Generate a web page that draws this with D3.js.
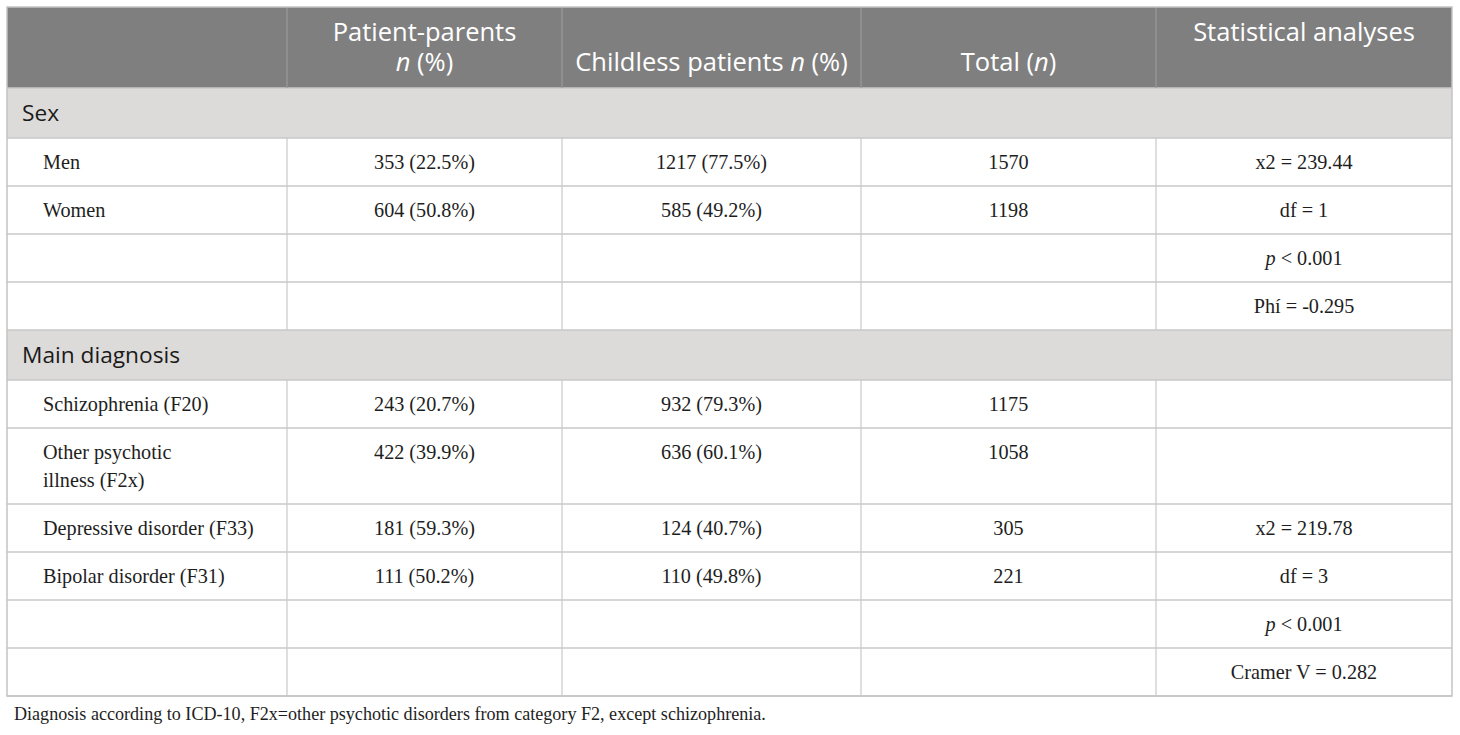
<!DOCTYPE html>
<html>
<head>
<meta charset="utf-8">
<script src="https://cdnjs.cloudflare.com/ajax/libs/d3/7.8.5/d3.min.js"></script>
<style>
  html, body { margin: 0; padding: 0; background: #fff; }
  svg { display: block; }
</style>
</head>
<body>
<div id="chart"></div>
<script>
// header cells: each line is a list of [text, italic]
const headers = [
  [],
  [[["Patient-parents", false]], [["n", true], [" (%)", false]]],
  [null, [["Childless patients ", false], ["n", true], [" (%)", false]]],
  [null, [["Total (", false], ["n", true], [")", false]]],
  [[["Statistical analyses", false]]]
];

const sexLabels = ["Men", "Women", "", ""];
const sexParents = ["353 (22.5%)", "604 (50.8%)", "", ""];
const sexChildless = ["1217 (77.5%)", "585 (49.2%)", "", ""];
const sexTotal = ["1570", "1198", "", ""];
const sexStats = ["x2 = 239.44", "df = 1", "p < 0.001", "Phí = -0.295"];

const diagLabels = ["Schizophrenia (F20)", "Other psychotic|illness (F2x)", "Depressive disorder (F33)", "Bipolar disorder (F31)", "", ""];
const diagParents = ["243 (20.7%)", "422 (39.9%)", "181 (59.3%)", "111 (50.2%)", "", ""];
const diagChildless = ["932 (79.3%)", "636 (60.1%)", "124 (40.7%)", "110 (49.8%)", "", ""];
const diagTotal = ["1175", "1058", "305", "221", "", ""];
const diagStats = ["", "", "x2 = 219.78", "df = 3", "p < 0.001", "Cramer V = 0.282"];

const groups = ["Sex", "Main diagnosis"];
const footnote = "Diagnosis according to ICD-10, F2x=other psychotic disorders from category F2, except schizophrenia.";

// layout
const W = 1460, H = 735;
const colEdges = [7, 287, 562, 861, 1156, 1452];
const tableTop = 7, headH = 81, groupH = 50, rowH = 48, lineH = 28;
const sans = "'Open Sans', 'Noto Sans', sans-serif";
const serif = "'Liberation Serif', 'DejaVu Serif', serif";

const svg = d3.select("#chart").append("svg").attr("width", W).attr("height", H);

// build row list
const rows = [];
const blocks = [
  [groups[0], sexLabels, sexParents, sexChildless, sexTotal, sexStats],
  [groups[1], diagLabels, diagParents, diagChildless, diagTotal, diagStats]
];
let y = tableTop + headH;
blocks.forEach(([g, labels, par, chl, tot, st]) => {
  rows.push({ type: "group", label: g, y, h: groupH });
  y += groupH;
  labels.forEach((l, i) => {
    const lines = l.split("|");
    const h = rowH + (lines.length - 1) * lineH;
    rows.push({ type: "data", cells: [lines, [par[i]], [chl[i]], [tot[i]], [st[i]]], y, h });
    y += h;
  });
});
const bottom = y;

const x = d3.scaleOrdinal().domain(d3.range(colEdges.length)).range(colEdges);
const xc = i => (x(i) + x(i + 1)) / 2;

// header background
svg.append("rect").attr("x", x(0)).attr("y", tableTop)
  .attr("width", x(5) - x(0)).attr("height", headH).attr("fill", "#7f7f7f");

// group row backgrounds
svg.selectAll("rect.grp").data(rows.filter(r => r.type === "group")).join("rect")
  .attr("class", "grp").attr("x", x(0)).attr("y", d => d.y)
  .attr("width", x(5) - x(0)).attr("height", d => d.h).attr("fill", "#dddbd9");

// horizontal lines
const hLines = [tableTop + headH].concat(rows.map(r => r.y + r.h));
svg.selectAll("line.h").data(hLines).join("line")
  .attr("x1", x(0)).attr("x2", x(5)).attr("y1", d => d).attr("y2", d => d)
  .attr("stroke", "#c9c9c9").attr("stroke-width", 1.5);

// vertical lines in header
svg.selectAll("line.vh").data(d3.range(1, 5)).join("line")
  .attr("x1", d => x(d)).attr("x2", d => x(d))
  .attr("y1", tableTop).attr("y2", tableTop + headH)
  .attr("stroke", "#9a9a9a").attr("stroke-width", 1.2);

// vertical lines in data rows
const dataRows = rows.filter(r => r.type === "data");
dataRows.forEach(r => {
  svg.append("g").selectAll("line").data(d3.range(1, 5)).join("line")
    .attr("x1", d => x(d)).attr("x2", d => x(d))
    .attr("y1", r.y).attr("y2", r.y + r.h)
    .attr("stroke", "#c9c9c9").attr("stroke-width", 1.2);
});

// outer border
svg.append("rect").attr("x", x(0)).attr("y", tableTop)
  .attr("width", x(5) - x(0)).attr("height", bottom - tableTop)
  .attr("fill", "none").attr("stroke", "#c4c4c4").attr("stroke-width", 1.5);

// header text: one text element per cell, one tspan row per line
const hLineY = [41, 71];
headers.forEach((lines, ci) => {
  if (!lines.length) return;
  const t = svg.append("text").attr("text-anchor", "middle").attr("fill", "#fff")
    .style("font-family", sans).style("font-size", "25.5px");
  lines.forEach((segs, li) => {
    if (!segs) return;
    segs.forEach((s, si) => {
      const sp = t.append("tspan").text(s[0])
        .style("font-style", s[1] ? "italic" : "normal");
      if (si === 0) sp.attr("x", xc(ci)).attr("y", tableTop + hLineY[li] - 7);
    });
  });
});

// group labels
svg.selectAll("text.grp").data(rows.filter(r => r.type === "group")).join("text")
  .attr("class", "grp").attr("x", 22).attr("y", d => d.y + d.h / 2 + 8)
  .attr("fill", "#1a1a1a").style("font-family", sans).style("font-size", "22.7px")
  .text(d => d.label);

// data cells
const italicP = s => s.startsWith("p ") ? [["p", true], [s.slice(1), false]] : [[s, false]];
dataRows.forEach(r => {
  r.cells.forEach((lines, ci) => {
    if (!lines[0]) return;
    const cx = ci === 0 ? 43 : xc(ci);
    const t = svg.append("text")
      .attr("text-anchor", ci === 0 ? "start" : "middle")
      .attr("fill", "#1e1e1e")
      .style("font-family", serif).style("font-size", "20.2px");
    lines.forEach((s, li) => {
      italicP(s).forEach((seg, si) => {
        const sp = t.append("tspan").text(seg[0])
          .style("font-style", seg[1] ? "italic" : "normal");
        if (si === 0) sp.attr("x", cx).attr("y", r.y + 24 + li * lineH + 6.5);
      });
    });
  });
});

// footnote
svg.append("text").attr("x", 14).attr("y", bottom + 23.5)
  .attr("fill", "#1e1e1e").style("font-family", serif).style("font-size", "18.1px")
  .text(footnote);
</script>
</body>
</html>
